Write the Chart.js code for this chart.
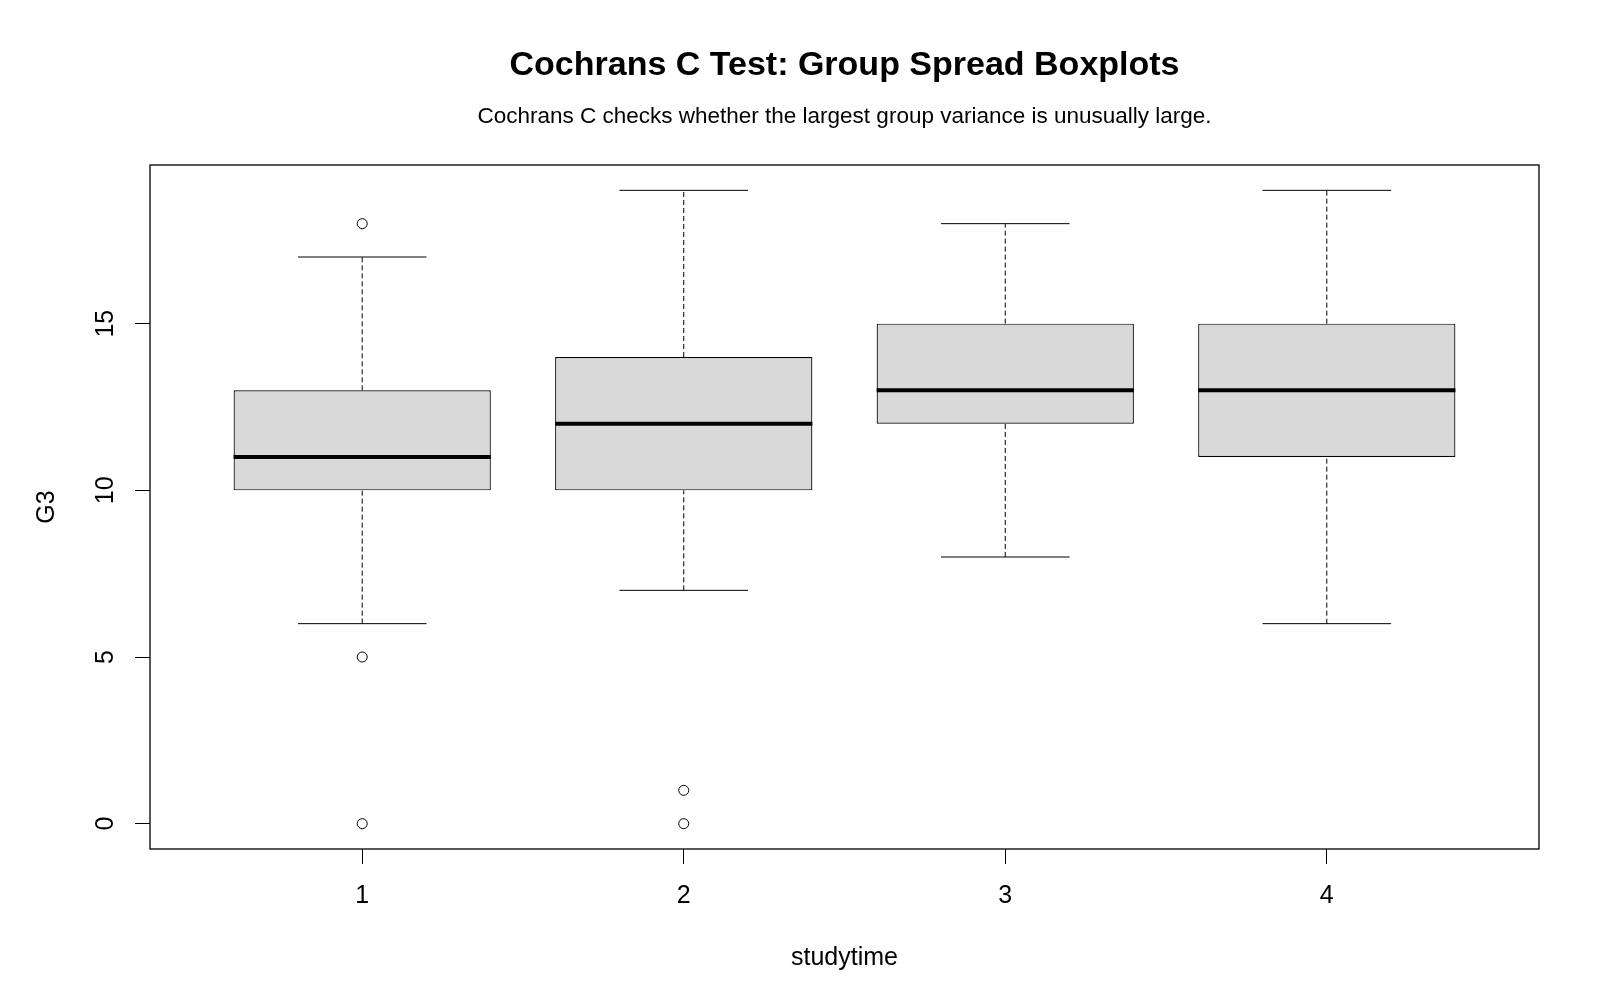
<!DOCTYPE html>
<html>
<head>
<meta charset="utf-8">
<script src="https://cdn.jsdelivr.net/npm/chart.js@4.4.1/dist/chart.umd.min.js"></script>
<style>
html, body { margin: 0; padding: 0; background: #fff; }
#wrap { width: 1600px; height: 1000px; }
</style>
</head>
<body>
<div id="wrap"><canvas id="boxChart"></canvas></div>
<script>
// boxplot summary per studytime group
const groups = [1, 2, 3, 4];
const whiskerLow = [6, 7, 8, 6];
const boxLow = [10, 10, 12, 11];
const medians = [11, 12, 13, 13];
const boxHigh = [13, 14, 15, 15];
const whiskerHigh = [17, 19, 18, 19];
const outlierGroups = [1, 1, 1, 2, 2];
const outlierValues = [18, 5, 0, 1, 0];
const yTickValues = [0, 5, 10, 15];

// R extends the axis range by 4% on each side
const allY = whiskerLow.concat(whiskerHigh, outlierValues);
const yLo = Math.min(...allY), yHi = Math.max(...allY);
const yPad = (yHi - yLo) * 0.04;
const xLo = 0.5, xHi = groups.length + 0.5;
const xPad = (xHi - xLo) * 0.04;

const FONT = "'Liberation Sans', Arial, sans-serif";
Chart.defaults.font.family = FONT;
Chart.defaults.color = '#000';

// whiskers, caps, medians and the plot frame
const boxPlotExtras = {
    id: 'boxPlotExtras',
    beforeDatasetsDraw(chart) {
        const { ctx, scales: { x, y } } = chart;
        const bars = chart.getDatasetMeta(0).data;
        ctx.save();
        ctx.strokeStyle = '#000';
        ctx.lineWidth = 1;
        groups.forEach((g, i) => {
            const px = x.getPixelForValue(g);
            const capHalf = bars[i].width / 4;
            ctx.setLineDash([5, 3]);
            ctx.beginPath();
            ctx.moveTo(px, y.getPixelForValue(whiskerLow[i]));
            ctx.lineTo(px, y.getPixelForValue(boxLow[i]));
            ctx.moveTo(px, y.getPixelForValue(boxHigh[i]));
            ctx.lineTo(px, y.getPixelForValue(whiskerHigh[i]));
            ctx.stroke();
            ctx.setLineDash([]);
            ctx.beginPath();
            [whiskerLow[i], whiskerHigh[i]].forEach(v => {
                const py = y.getPixelForValue(v);
                ctx.moveTo(px - capHalf, py);
                ctx.lineTo(px + capHalf, py);
            });
            ctx.stroke();
        });
        ctx.restore();
    },
    afterDatasetsDraw(chart) {
        const { ctx, scales: { x, y } } = chart;
        const bars = chart.getDatasetMeta(0).data;
        ctx.save();
        ctx.strokeStyle = '#000';
        ctx.lineWidth = 4;
        groups.forEach((g, i) => {
            const px = x.getPixelForValue(g);
            const half = bars[i].width / 2;
            const py = y.getPixelForValue(medians[i]);
            ctx.beginPath();
            ctx.moveTo(px - half, py);
            ctx.lineTo(px + half, py);
            ctx.stroke();
        });
        const a = chart.chartArea;
        ctx.lineWidth = 1.3;
        ctx.strokeRect(a.left, a.top, a.right - a.left, a.bottom - a.top);
        ctx.restore();
    }
};

new Chart(document.getElementById('boxChart'), {
    type: 'bar',
    data: {
        datasets: [
            {
                type: 'bar',
                data: groups.map((g, i) => ({ x: g, y: [boxLow[i], boxHigh[i]] })),
                backgroundColor: '#D9D9D9',
                borderColor: '#000',
                borderWidth: 1.2,
                borderSkipped: false,
                categoryPercentage: 0.8,
                barPercentage: 1,
                order: 2
            },
            {
                type: 'scatter',
                data: outlierGroups.map((g, i) => ({ x: g, y: outlierValues[i] })),
                pointStyle: 'circle',
                pointRadius: 5,
                pointBackgroundColor: 'rgba(0,0,0,0)',
                pointBorderColor: '#000',
                pointBorderWidth: 1,
                order: 1
            }
        ]
    },
    options: {
        responsive: true,
        maintainAspectRatio: false,
        animation: false,
        layout: { padding: { left: 0, right: 61, top: 0, bottom: 0 } },
        plugins: {
            legend: { display: false },
            tooltip: { enabled: false },
            title: {
                display: true,
                fullSize: false,
                text: 'Cochrans C Test: Group Spread Boxplots',
                color: '#000',
                font: { size: 34, weight: 'bold', lineHeight: 1.2 },
                padding: { top: 45.6, bottom: 0 }
            },
            subtitle: {
                display: true,
                fullSize: false,
                text: 'Cochrans C checks whether the largest group variance is unusually large.',
                color: '#000',
                font: { size: 22.5, lineHeight: 1.2 },
                padding: { top: 16.4, bottom: 35.2 }
            }
        },
        scales: {
            x: {
                type: 'linear',
                min: xLo - xPad,
                max: xHi + xPad,
                offset: false,
                afterBuildTicks: s => { s.ticks = groups.map(v => ({ value: v })); },
                afterFit: s => { s.height = 151; },
                border: { display: false },
                grid: { offset: false, drawOnChartArea: false, drawTicks: true, tickLength: 15, color: '#000', lineWidth: 1 },
                ticks: { color: '#000', font: { size: 25 }, padding: 17, maxRotation: 0, autoSkip: false },
                title: { display: true, text: 'studytime', color: '#000', font: { size: 25 }, padding: { top: 0, bottom: 27 } }
            },
            y: {
                type: 'linear',
                min: yLo - yPad,
                max: yHi + yPad,
                afterBuildTicks: s => { s.ticks = yTickValues.map(v => ({ value: v })); },
                afterFit: s => { s.width = 150; },
                border: { display: false },
                grid: { drawOnChartArea: false, drawTicks: true, tickLength: 15, color: '#000', lineWidth: 1 },
                ticks: { color: '#000', font: { size: 25 }, padding: 15, minRotation: 90, maxRotation: 90, crossAlign: 'center', autoSkip: false },
                title: { display: true, text: 'G3', color: '#000', font: { size: 25 }, padding: { top: 32, bottom: 0 } }
            }
        }
    },
    plugins: [boxPlotExtras]
});
</script>
</body>
</html>
